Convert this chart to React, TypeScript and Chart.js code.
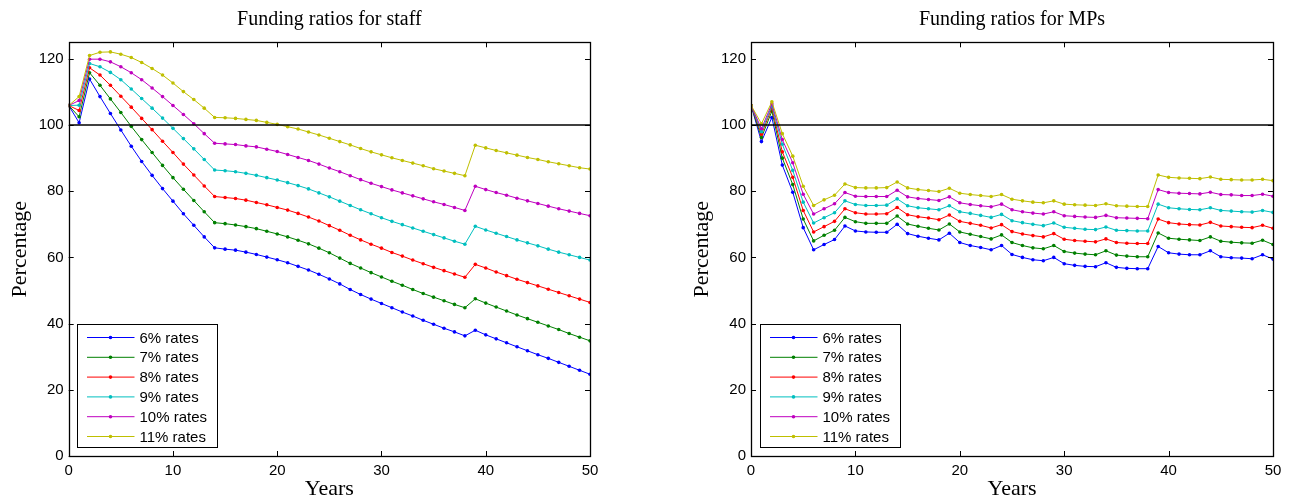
import React, { useEffect, useRef } from 'react';
import { Chart, registerables } from 'chart.js';

Chart.register(...registerables);

// ---------- data ----------
const years = [0, 1, 2, 3, 4, 5, 6, 7, 8, 9, 10, 11, 12, 13, 14, 15, 16, 17, 18, 19, 20, 21, 22, 23, 24, 25, 26, 27, 28, 29, 30, 31, 32, 33, 34, 35, 36, 37, 38, 39, 40, 41, 42, 43, 44, 45, 46, 47, 48, 49, 50];
const seriesLabels = ['6% rates', '7% rates', '8% rates', '9% rates', '10% rates', '11% rates'];
const xTickValues = [0, 10, 20, 30, 40, 50];
const yTickValues = [0, 20, 40, 60, 80, 100, 120];
const referenceLevel = [100, 100];
const referenceYears = [0, 50];

// Funding ratios for staff
const staff6 = [105.9, 100.7, 113.9, 108.6, 103.5, 98.5, 93.6, 89.0, 84.8, 80.8, 77.0, 73.2, 69.7, 66.2, 62.9, 62.5, 62.2, 61.6, 60.9, 60.1, 59.3, 58.4, 57.3, 56.2, 54.9, 53.5, 52.0, 50.3, 48.8, 47.4, 46.1, 44.8, 43.5, 42.3, 41.0, 39.8, 38.6, 37.5, 36.3, 38.0, 36.6, 35.4, 34.2, 33.0, 31.8, 30.6, 29.5, 28.3, 27.1, 25.9, 24.7];
const staff7 = [105.9, 102.5, 115.8, 112.0, 107.9, 103.8, 99.6, 95.6, 91.7, 87.8, 84.1, 80.6, 77.2, 73.8, 70.5, 70.2, 69.8, 69.3, 68.7, 67.9, 67.1, 66.2, 65.2, 64.1, 62.8, 61.4, 59.8, 58.2, 56.8, 55.4, 54.1, 52.8, 51.6, 50.3, 49.1, 48.0, 46.9, 45.8, 44.8, 47.5, 46.2, 45.0, 43.8, 42.6, 41.5, 40.4, 39.3, 38.2, 37.0, 35.9, 34.8];
const staff8 = [105.9, 104.4, 117.3, 115.1, 112.0, 108.7, 105.4, 102.0, 98.6, 95.1, 91.7, 88.2, 84.9, 81.6, 78.4, 78.1, 77.8, 77.3, 76.6, 75.9, 75.1, 74.3, 73.3, 72.2, 71.0, 69.6, 68.2, 66.7, 65.3, 64.0, 62.8, 61.5, 60.4, 59.2, 58.1, 57.0, 56.0, 55.0, 54.0, 57.9, 56.8, 55.6, 54.5, 53.4, 52.4, 51.4, 50.4, 49.4, 48.4, 47.4, 46.4];
const staff9 = [105.9, 106.0, 118.6, 117.6, 115.9, 113.7, 110.9, 108.0, 105.1, 102.1, 99.0, 95.9, 92.8, 89.6, 86.4, 86.2, 85.9, 85.4, 84.8, 84.1, 83.4, 82.6, 81.7, 80.7, 79.5, 78.3, 77.0, 75.7, 74.4, 73.2, 72.0, 70.9, 69.9, 68.9, 67.9, 66.9, 65.9, 64.9, 64.0, 69.4, 68.3, 67.3, 66.3, 65.3, 64.4, 63.5, 62.5, 61.6, 60.8, 60.0, 59.2];
const staff10 = [105.9, 107.4, 119.9, 119.9, 119.1, 117.6, 115.8, 113.7, 111.2, 108.6, 105.9, 103.2, 100.4, 97.4, 94.5, 94.3, 94.1, 93.7, 93.4, 92.7, 92.0, 91.1, 90.2, 89.3, 88.2, 87.0, 85.9, 84.7, 83.5, 82.4, 81.4, 80.4, 79.5, 78.6, 77.7, 76.8, 76.0, 75.1, 74.2, 81.5, 80.5, 79.6, 78.8, 77.9, 77.1, 76.3, 75.5, 74.7, 74.0, 73.3, 72.6];
const staff11 = [105.9, 108.6, 121.0, 122.0, 122.1, 121.4, 120.4, 118.9, 117.1, 115.1, 112.7, 110.1, 107.7, 105.1, 102.3, 102.2, 102.0, 101.7, 101.4, 100.8, 100.2, 99.5, 98.8, 97.9, 97.0, 96.0, 95.0, 94.0, 92.9, 91.9, 91.0, 90.1, 89.3, 88.5, 87.7, 86.8, 86.1, 85.4, 84.7, 93.9, 93.1, 92.3, 91.6, 90.9, 90.2, 89.6, 88.9, 88.3, 87.7, 87.1, 86.7];

// Funding ratios for MPs
const mps6 = [106.0, 95.0, 102.3, 87.9, 79.7, 69.0, 62.3, 63.9, 65.4, 69.5, 68.0, 67.7, 67.6, 67.6, 70.0, 67.2, 66.4, 65.8, 65.3, 67.3, 64.5, 63.6, 63.0, 62.3, 63.6, 60.9, 60.0, 59.3, 59.0, 60.0, 58.1, 57.6, 57.3, 57.2, 58.4, 57.0, 56.7, 56.6, 56.6, 63.3, 61.4, 61.0, 60.8, 60.8, 62.0, 60.2, 59.9, 59.8, 59.6, 60.8, 59.5];
const mps7 = [106.0, 96.2, 104.2, 90.0, 82.0, 71.6, 65.0, 66.7, 68.2, 72.1, 70.8, 70.3, 70.3, 70.3, 72.5, 70.1, 69.4, 68.8, 68.3, 70.1, 67.7, 67.0, 66.3, 65.6, 66.8, 64.5, 63.6, 62.9, 62.6, 63.6, 61.8, 61.3, 61.0, 60.8, 62.0, 60.7, 60.4, 60.2, 60.2, 67.4, 65.8, 65.5, 65.3, 65.1, 66.2, 64.9, 64.6, 64.4, 64.3, 65.2, 63.9];
const mps8 = [106.0, 97.2, 105.2, 91.9, 84.2, 74.2, 67.7, 69.3, 70.9, 74.7, 73.5, 73.1, 73.1, 73.2, 75.1, 72.9, 72.3, 71.9, 71.4, 72.8, 70.9, 70.3, 69.7, 68.9, 69.9, 67.8, 67.1, 66.6, 66.2, 67.2, 65.5, 65.1, 64.9, 64.7, 65.6, 64.5, 64.3, 64.2, 64.2, 71.6, 70.5, 70.1, 69.9, 69.8, 70.6, 69.5, 69.3, 69.1, 69.0, 69.7, 68.8];
const mps9 = [106.0, 98.0, 105.8, 94.2, 86.3, 76.7, 70.4, 72.0, 73.5, 77.1, 76.0, 75.7, 75.7, 75.8, 77.7, 75.6, 75.0, 74.7, 74.4, 75.6, 73.8, 73.3, 72.7, 72.1, 73.0, 71.1, 70.5, 70.0, 69.6, 70.4, 69.1, 68.8, 68.5, 68.4, 69.2, 68.2, 68.1, 68.0, 68.0, 76.1, 75.0, 74.7, 74.5, 74.4, 75.0, 74.2, 74.0, 73.8, 73.7, 74.2, 73.6];
const mps10 = [106.0, 98.9, 106.4, 95.6, 88.6, 79.1, 73.1, 74.7, 76.2, 79.6, 78.5, 78.4, 78.4, 78.4, 80.3, 78.3, 77.8, 77.5, 77.2, 78.3, 76.5, 76.0, 75.6, 75.3, 76.1, 74.4, 73.8, 73.4, 73.1, 73.8, 72.6, 72.4, 72.2, 72.1, 72.7, 72.0, 71.9, 71.8, 71.7, 80.5, 79.6, 79.4, 79.3, 79.2, 79.7, 79.0, 78.9, 78.7, 78.7, 79.1, 78.5];
const mps11 = [106.0, 100.4, 107.0, 97.4, 90.6, 81.5, 75.7, 77.4, 78.8, 82.2, 81.1, 81.0, 81.0, 81.1, 82.8, 81.0, 80.5, 80.2, 79.9, 80.9, 79.4, 79.0, 78.7, 78.4, 79.0, 77.6, 77.1, 76.7, 76.5, 77.1, 76.1, 75.9, 75.8, 75.7, 76.2, 75.6, 75.5, 75.4, 75.4, 84.9, 84.2, 84.0, 83.9, 83.8, 84.3, 83.6, 83.5, 83.4, 83.4, 83.6, 83.2];

const seriesColors = ['#0000ff', '#008000', '#ff0000', '#00bfbf', '#bf00bf', '#bfbf00'];

const SERIF = '"Liberation Serif", "DejaVu Serif", serif';
const SANS = '"Liberation Sans", Arial, sans-serif';

const frameLegendPlugin = {
  id: 'frameLegend',
  afterDatasetsDraw(chart: any) {
    const { ctx, chartArea: a, scales } = chart;
    ctx.save();
    // inward tick marks on all four sides
    const tl = 5;
    ctx.strokeStyle = '#000';
    ctx.lineWidth = 1;
    ctx.beginPath();
    for (const v of xTickValues) {
      const px = Math.round(scales.x.getPixelForValue(v)) + 0.5;
      ctx.moveTo(px, a.bottom);
      ctx.lineTo(px, a.bottom - tl);
      ctx.moveTo(px, a.top);
      ctx.lineTo(px, a.top + tl);
    }
    for (const v of yTickValues) {
      const py = Math.round(scales.y.getPixelForValue(v)) + 0.5;
      ctx.moveTo(a.left, py);
      ctx.lineTo(a.left + tl, py);
      ctx.moveTo(a.right, py);
      ctx.lineTo(a.right - tl, py);
    }
    ctx.stroke();
    ctx.lineWidth = 1.3;
    ctx.strokeRect(Math.round(a.left) + 0.5, Math.round(a.top) + 0.5, Math.round(a.right - a.left), Math.round(a.bottom - a.top));

    // legend box (lower left inside the plot)
    const bx = Math.round(a.left + 8.5) + 0.5;
    const by = Math.round(a.top + 282) + 0.5;
    const bw = 140;
    const bh = 123;
    ctx.fillStyle = '#fff';
    ctx.fillRect(bx, by, bw, bh);
    ctx.lineWidth = 1;
    ctx.strokeStyle = '#000';
    ctx.strokeRect(bx, by, bw, bh);
    ctx.font = `15px ${SANS}`;
    ctx.textBaseline = 'middle';
    ctx.textAlign = 'left';
    seriesLabels.forEach((label, i) => {
      const y = by + 13 + i * 19.8;
      ctx.strokeStyle = seriesColors[i];
      ctx.lineWidth = 1;
      ctx.beginPath();
      ctx.moveTo(bx + 9.5, y);
      ctx.lineTo(bx + 57, y);
      ctx.stroke();
      ctx.fillStyle = seriesColors[i];
      ctx.beginPath();
      ctx.arc(bx + 33, y, 1.8, 0, Math.PI * 2);
      ctx.fill();
      ctx.fillStyle = '#000';
      ctx.fillText(label, bx + 62, y + 1);
    });
    ctx.restore();
  },
};

function FundingChart(props: { title: string; series: number[][]; padLeft: number; padRight: number; width: number }) {
  const ref = useRef<HTMLCanvasElement | null>(null);
  useEffect(() => {
    if (!ref.current) return;
    const datasets: any[] = props.series.map((vals, i) => ({
      label: seriesLabels[i],
      data: years.map((x, j) => ({ x, y: vals[j] })),
      borderColor: seriesColors[i],
      backgroundColor: seriesColors[i],
      borderWidth: 1,
      pointRadius: 1.8,
      pointBorderWidth: 0,
      pointBackgroundColor: seriesColors[i],
      tension: 0,
      order: 6 - i,
    }));
    datasets.push({
      label: 'ref',
      data: referenceYears.map((x, j) => ({ x, y: referenceLevel[j] })),
      borderColor: '#000',
      borderWidth: 1.5,
      pointRadius: 0,
      order: 0,
    });
    const chart = new Chart(ref.current, {
      type: 'line',
      data: { datasets },
      plugins: [frameLegendPlugin],
      options: {
        animation: false,
        responsive: false,
        maintainAspectRatio: false,
        layout: { padding: { left: props.padLeft, right: props.padRight, top: 0, bottom: 0 } },
        plugins: {
          legend: { display: false },
          tooltip: { enabled: false },
          title: {
            display: true,
            text: props.title,
            fullSize: false,
            color: '#000',
            font: { family: SERIF, size: 20, weight: 'normal', lineHeight: 1.2 },
            padding: { top: 7.5, bottom: 10.8 },
          },
        },
        scales: {
          x: {
            type: 'linear',
            min: 0,
            max: 50,
            grid: { display: false, drawTicks: false },
            border: { display: false },
            afterBuildTicks: (s: any) => {
              s.ticks = xTickValues.map((v) => ({ value: v }));
            },
            afterFit: (s: any) => {
              s.height = 44;
            },
            ticks: { color: '#000', font: { family: SANS, size: 15 }, padding: 6, maxRotation: 0 },
            title: {
              display: true,
              text: 'Years',
              color: '#000',
              font: { family: SERIF, size: 22, lineHeight: 1 },
              padding: { top: 0, bottom: 0 },
            },
          },
          y: {
            type: 'linear',
            min: 0,
            max: 125,
            grid: { display: false, drawTicks: false },
            border: { display: false },
            afterBuildTicks: (s: any) => {
              s.ticks = yTickValues.map((v) => ({ value: v }));
            },
            afterFit: (s: any) => {
              s.width = 68.7;
            },
            ticks: { color: '#000', font: { family: SANS, size: 15 }, padding: 5 },
            title: {
              display: true,
              text: 'Percentage',
              color: '#000',
              font: { family: SERIF, size: 22, lineHeight: 1.2 },
              padding: { top: 6.8, bottom: 0 },
            },
          },
        },
      } as any,
    });
    return () => chart.destroy();
  }, []);
  return <canvas ref={ref} width={props.width} height={500} />;
}

export default function App() {
  return (
    <div style={{ position: 'absolute', left: 0, top: 0, width: 1293, height: 500, background: '#fff' }}>
      <div style={{ position: 'absolute', left: 0, top: 0 }}>
        <FundingChart title="Funding ratios for staff" series={[staff6, staff7, staff8, staff9, staff10, staff11]} padLeft={0} padRight={56} width={646} />
      </div>
      <div style={{ position: 'absolute', left: 646, top: 0 }}>
        <FundingChart title="Funding ratios for MPs" series={[mps6, mps7, mps8, mps9, mps10, mps11]} padLeft={36.3} padRight={20} width={647} />
      </div>
    </div>
  );
}
